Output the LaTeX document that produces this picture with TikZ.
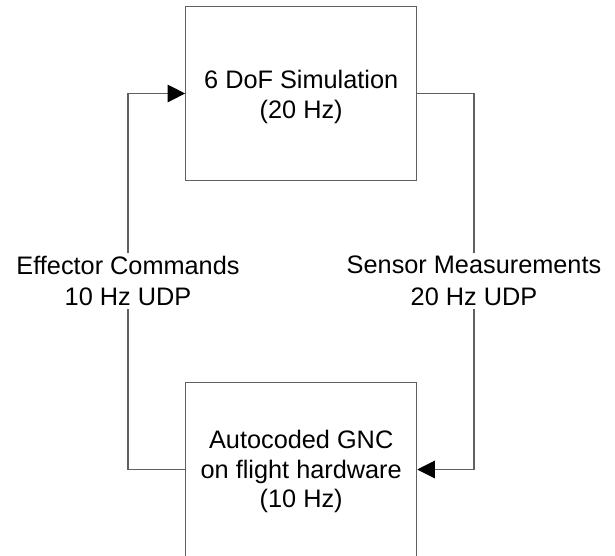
\documentclass[tikz,border=0pt]{standalone}
\usepackage{fontspec}
\setmainfont{Liberation Sans}
\usetikzlibrary{arrows.meta}
\definecolor{wire}{RGB}{96,96,96}
\tikzset{
  block/.style={draw=wire, line width=1.1pt, minimum width=231pt, minimum height=173.6pt,
    align=center, inner sep=0pt, font=\fontsize{25.3}{29.5}\selectfont},
  link/.style={draw=wire, line width=1.1pt},
  tip/.style={-{Triangle[length=17.5pt,width=17.5pt,color=black,fill=black]}},
  tag/.style={fill=white, align=center, inner xsep=2pt, inner ysep=3pt,
    font=\fontsize{25.3}{31.6}\selectfont}
}
% extra room above the first text line, nudging the block text down a little
\newcommand{\topgap}[1]{\rule{0pt}{#1}}
\begin{document}
\begin{tikzpicture}[x=1pt,y=-1pt]
  \useasboundingbox (0,0) rectangle (615,556);
  % the two processing blocks
  \node[block] (sim) at (301.2,93.5) {\topgap{25pt}6 DoF Simulation\\(20 Hz)};
  \node[block] (gnc) at (301.2,469.5) {\topgap{23pt}Autocoded GNC\\on flight hardware\\(10 Hz)};
  % loop corners
  \coordinate (lb) at (128,469.5);
  \coordinate (lt) at (128,93.5);
  \coordinate (rt) at (474,93.5);
  \coordinate (rb) at (474,469.5);
  % feedback loop
  \draw[link,tip] (gnc.west) -- (lb) -- (lt) -- (sim.west);
  \draw[link,tip] (sim.east) -- (rt) -- (rb) -- (gnc.east);
  % interface labels
  \node[tag] (eff) at (128,281) {Effector Commands\\10 Hz UDP};
  \node[tag] (sen) at (474,281) {Sensor Measurements\\20 Hz UDP};
\end{tikzpicture}
\end{document}
